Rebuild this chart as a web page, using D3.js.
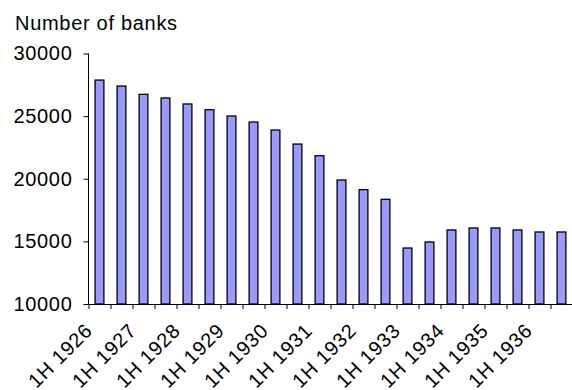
<!DOCTYPE html>
<html>
<head>
<meta charset="utf-8">
<script src="https://cdn.jsdelivr.net/npm/d3@7"></script>
<style>
  html, body { margin: 0; padding: 0; background: #fff; }
  svg { display: block; font-family: "Liberation Sans", Arial, sans-serif; }
  svg text { font-size: 20px; letter-spacing: 0.7px; }
</style>
</head>
<body>
<svg id="chart" width="572" height="390"></svg>
<script>
// Half-year periods, 1926 through 1936
const periods = [
  "1H 1926", "2H 1926", "1H 1927", "2H 1927", "1H 1928", "2H 1928",
  "1H 1929", "2H 1929", "1H 1930", "2H 1930", "1H 1931", "2H 1931",
  "1H 1932", "2H 1932", "1H 1933", "2H 1933", "1H 1934", "2H 1934",
  "1H 1935", "2H 1935", "1H 1936", "2H 1936"
];
// Number of banks at each period
const banks = [
  27880, 27400, 26740, 26450, 25970, 25510,
  25010, 24530, 23890, 22770, 21840, 19900,
  19130, 18360, 14470, 14950, 15910, 16070,
  16070, 15910, 15750, 15750
];
const yTicks = [10000, 15000, 20000, 25000, 30000];
const yLabel = "Number of banks";

const svg = d3.select("#chart");
const plotLeft = 88.5, plotRight = 572.5, plotTop = 53.5, plotBottom = 304;

const x = d3.scaleBand()
  .domain(periods)
  .range([plotLeft, plotRight])
  .paddingInner(0.6)
  .paddingOuter(0.3);

// boundaries between periods, for the tick marks on the category axis
const xEdge = d3.scaleLinear().domain([0, periods.length]).range([plotLeft, plotRight]);

const y = d3.scaleLinear().domain([10000, 30000]).range([plotBottom, plotTop]);

// bars
svg.append("g")
  .selectAll("rect")
  .data(banks)
  .join("rect")
  .attr("x", (d, i) => x(periods[i]))
  .attr("y", d => y(d))
  .attr("width", x.bandwidth())
  .attr("height", d => y(10000) - y(d))
  .attr("fill", "#9999ff")
  .attr("stroke", "#000")
  .attr("stroke-width", 1.3);

// value axis
const yAxis = svg.append("g")
  .attr("transform", `translate(${plotLeft},0)`)
  .call(d3.axisLeft(y).tickValues(yTicks).tickFormat(d3.format("d")).tickSize(5).tickPadding(11));
yAxis.attr("font-size", null).attr("font-family", null);
yAxis.select(".domain").attr("stroke", "#000").attr("d", `M0,${plotTop}H0V${plotBottom}`);
yAxis.selectAll(".tick line").attr("stroke", "#000");
yAxis.selectAll(".tick text").attr("fill", "#000");

// category axis: ticks between periods
const xAxis = svg.append("g")
  .attr("transform", `translate(0,${plotBottom})`)
  .call(d3.axisBottom(xEdge).tickValues(d3.range(0, periods.length + 1)).tickFormat("").tickSize(5).tickSizeOuter(0));
xAxis.select(".domain").attr("stroke", "#000");
xAxis.selectAll(".tick line").attr("stroke", "#000");

// period labels on every first half
svg.append("g")
  .selectAll("text")
  .data(periods.filter((p, i) => i % 2 === 0))
  .join("text")
  .attr("transform", d => `translate(${x(d) + x.bandwidth() / 2 - 6},${plotBottom + 28}) rotate(-45)`)
  .attr("text-anchor", "end")
  .attr("fill", "#000")
  .text(d => d);

// axis title
svg.append("text")
  .attr("x", 15)
  .attr("y", 30)
  .attr("fill", "#000")
  .text(yLabel);
</script>
</body>
</html>
